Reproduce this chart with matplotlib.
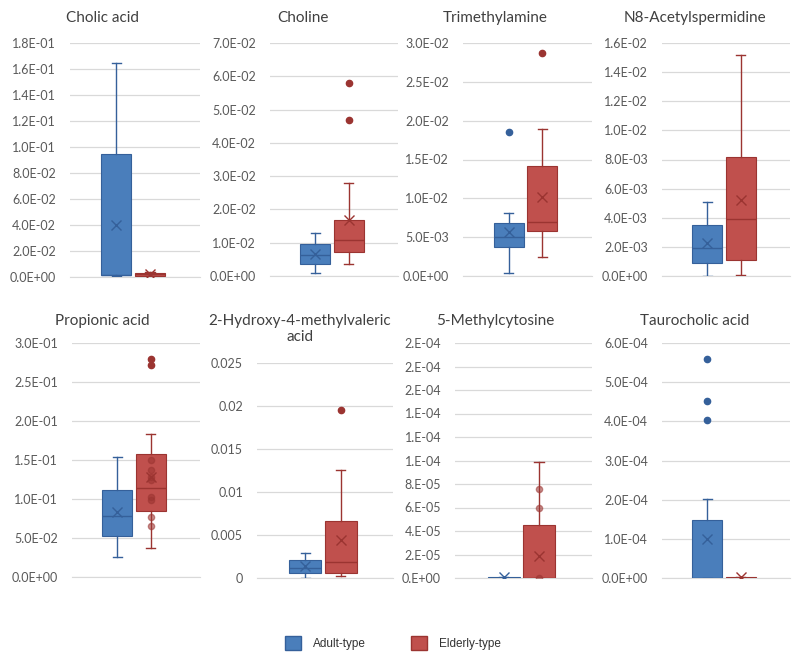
import matplotlib
matplotlib.use("Agg")
import matplotlib.pyplot as plt
from matplotlib.patches import Patch
from matplotlib.ticker import FuncFormatter

# ---- data (box stats per metabolite) ----
metabolites = ["Cholic acid", "Choline", "Trimethylamine", "N8-Acetylspermidine",
               "Propionic acid", "2-Hydroxy-4-methylvaleric\nacid", "5-Methylcytosine",
               "Taurocholic acid"]

adult_lo   = [0.0005, 0.0010, 0.0004, 0.0000, 0.0257, 0.0000, 0.0, 0.0]
adult_q1   = [0.0015, 0.0037, 0.0037, 0.00091, 0.0527, 0.00058, 0.0, 0.0]
adult_med  = [0.0015, 0.0062, 0.0050, 0.00193, 0.0780, 0.00116, 0.0, 0.0]
adult_q3   = [0.0950, 0.0097, 0.0068, 0.0035, 0.1110, 0.00205, 1e-6, 1.49e-4]
adult_hi   = [0.1650, 0.0130, 0.0081, 0.0051, 0.1540, 0.0029, 1e-6, 2.02e-4]
adult_mean = [0.0400, 0.0065, 0.0057, 0.00228, 0.0836, 0.00135, 1e-6, 1.0e-4]
adult_out  = [[], [], [0.0185], [], [], [], [], [5.59e-4, 4.52e-4, 4.04e-4]]
adult_in   = [[], [], [], [], [], [], [], []]

eld_lo   = [0.0008, 0.0037, 0.0025, 0.0001, 0.0373, 0.00027, 0.0, 0.0]
eld_q1   = [0.0010, 0.0072, 0.00576, 0.00109, 0.0840, 0.00058, 0.0, 0.0]
eld_med  = [0.0020, 0.0107, 0.0070, 0.0039, 0.1136, 0.00185, 0.0, 0.0]
eld_q3   = [0.0030, 0.0167, 0.0141, 0.00815, 0.1580, 0.00668, 4.5e-5, 2e-6]
eld_hi   = [0.0035, 0.0279, 0.0189, 0.0152, 0.1830, 0.01256, 9.9e-5, 3e-6]
eld_mean = [0.0020, 0.0167, 0.0102, 0.0052, 0.1286, 0.00437, 1.84e-5, 2e-6]
eld_out  = [[], [0.058, 0.047], [0.0287], [], [0.280, 0.2713], [0.0195], [], []]
eld_in   = [[], [], [], [], [0.150, 0.137, 0.128, 0.124, 0.1026, 0.0987, 0.0773, 0.0658],
            [], [7.6e-5, 6.0e-5, 0.0], []]

y_max  = [0.18, 0.07, 0.03, 0.016, 0.3, 0.025, 2e-4, 6e-4]
y_step = [0.02, 0.01, 0.005, 0.002, 0.05, 0.005, 2e-5, 1e-4]
y_fmt  = ["{:.1E}", "{:.1E}", "{:.1E}", "{:.1E}", "{:.1E}", "{:g}", "{:#.0E}", "{:.1E}"]

groups = ["Adult-type", "Elderly-type"]

# ---- styling ----
W, H = 800, 657
blue, blue_dk = "#4A7EBB", "#35609A"
red, red_dk = "#C0504D", "#9B3431"
grid_c = "#D9D9D9"
txt_c = "#595959"
plt.rcParams["font.family"] = ["Lato", "DejaVu Sans"]

# plot areas in pixels: left, right, top, bottom
areas = [(70, 200, 43, 277), (270, 398, 43, 276), (463, 592, 43, 276), (662, 790, 43, 276),
         (72, 200, 343, 577), (257, 393, 363, 578), (455, 592, 343, 578), (662, 790, 343, 578)]
title_pos = [(103, 18), (303, 18), (495, 18), (695, 18),
             (102, 321), (300, 329), (495, 321), (695, 321)]

fig = plt.figure(figsize=(W / 100, H / 100), dpi=100)

def stats(i, lo, q1, med, q3, hi, mean, out):
    return dict(whislo=lo[i], q1=q1[i], med=med[i], q3=q3[i], whishi=hi[i],
                mean=mean[i], fliers=out[i])

for i, name in enumerate(metabolites):
    l, r, t, b = areas[i]
    ax = fig.add_axes([l / W, 1 - b / H, (r - l) / W, (b - t) / H])
    pos = [0.355, 0.615]
    sets = [
        (stats(i, adult_lo, adult_q1, adult_med, adult_q3, adult_hi, adult_mean, adult_out),
         blue, blue_dk, adult_in[i]),
        (stats(i, eld_lo, eld_q1, eld_med, eld_q3, eld_hi, eld_mean, eld_out),
         red, red_dk, eld_in[i]),
    ]
    for p, (st, fc, ec, inner) in zip(pos, sets):
        ax.bxp([st], positions=[p], widths=0.235, capwidths=0.07, showmeans=True,
               patch_artist=True, manage_ticks=False,
               boxprops=dict(facecolor=fc, edgecolor=ec, linewidth=0.8),
               whiskerprops=dict(color=ec, linewidth=1.0),
               capprops=dict(color=ec, linewidth=1.0),
               medianprops=dict(color=ec, linewidth=1.0),
               meanprops=dict(marker="x", markeredgecolor=ec, markersize=7, markeredgewidth=1.0),
               flierprops=dict(marker="o", markerfacecolor=ec, markeredgecolor=ec, markersize=4.5),
               zorder=3)
        if inner:
            ax.plot([p] * len(inner), inner, "o", color=ec, markersize=4.5, alpha=0.55, zorder=4)
    ax.set_xlim(0, 1)
    ax.set_ylim(0, y_max[i])
    n = int(round(y_max[i] / y_step[i]))
    ax.set_yticks([k * y_step[i] for k in range(n + 1)])
    ax.yaxis.set_major_formatter(FuncFormatter(lambda v, _p, f=y_fmt[i]: f.format(v)))
    ax.set_xticks([])
    ax.grid(axis="y", color=grid_c, linewidth=0.9, zorder=0)
    ax.set_axisbelow(True)
    for s in ["top", "right", "left"]:
        ax.spines[s].set_visible(False)
    ax.spines["bottom"].set_color(grid_c)
    ax.tick_params(axis="y", length=0, labelsize=9, labelcolor=txt_c, pad=10)
    tx, ty = title_pos[i]
    fig.text(tx / W, 1 - ty / H, name, ha="center", va="center", fontsize=11,
             color="#404040", linespacing=1.15)

handles = [Patch(facecolor=blue, edgecolor=blue_dk, label=groups[0]),
           Patch(facecolor=red, edgecolor=red_dk, label=groups[1])]
fig.legend(handles=handles, loc="center", bbox_to_anchor=(393 / W, 1 - 643 / H), ncol=2,
           frameon=False, handlelength=1.4, handleheight=1.4, columnspacing=3.8,
           handletextpad=1.0, prop={"family": "Liberation Sans", "size": 8.5},
           labelcolor="#333333")

fig.savefig("out.png", dpi=100, facecolor="white")
